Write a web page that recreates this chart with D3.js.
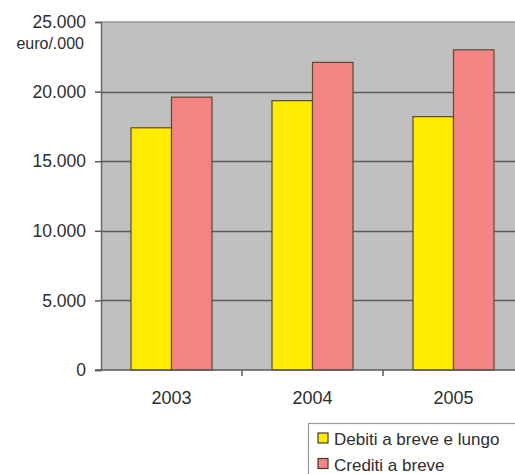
<!DOCTYPE html>
<html>
<head>
<meta charset="utf-8">
<script src="https://cdn.jsdelivr.net/npm/d3@7"></script>
<style>
  html, body { margin: 0; padding: 0; background: #fff; }
  svg { display: block; }
  text { font-family: "Liberation Sans", Arial, sans-serif; fill: #2e2e2e; }
</style>
</head>
<body>
<svg id="chart" width="515" height="474"></svg>
<script>
// Anni e serie (migliaia di euro)
const years = ["2003", "2004", "2005"];
const debiti = [17400, 19350, 18200];
const crediti = [19600, 22100, 23000];
const seriesNames = ["Debiti a breve e lungo", "Crediti a breve"];
const seriesColors = ["#ffec00", "#f38585"];
const yTicks = [0, 5000, 10000, 15000, 20000, 25000];
const yTickLabels = ["0", "5.000", "10.000", "15.000", "20.000", "25.000"];
const unitLabel = "euro/.000";

const svg = d3.select("#chart");

const plot = { left: 101, right: 524, top: 22, bottom: 370 };

const x = d3.scaleBand()
  .domain(years)
  .range([plot.left, plot.right])
  .paddingInner(60 / 141)
  .paddingOuter(30 / 141);

const xs = d3.scaleBand()
  .domain(seriesNames)
  .range([0, x.bandwidth()]);

const y = d3.scaleLinear()
  .domain([0, 25000])
  .range([plot.bottom, plot.top]);

// plot background
svg.append("rect")
  .attr("x", plot.left).attr("y", plot.top)
  .attr("width", plot.right - plot.left).attr("height", plot.bottom - plot.top)
  .attr("fill", "#c0c0c0");

// horizontal gridlines
svg.append("g")
  .selectAll("line")
  .data(yTicks.filter(t => t > 0 && t < 25000))
  .join("line")
  .attr("x1", plot.left).attr("x2", plot.right)
  .attr("y1", d => Math.round(y(d)) + 0.5).attr("y2", d => Math.round(y(d)) + 0.5)
  .attr("stroke", "#5a5a5a").attr("stroke-width", 1.5);

// top border
svg.append("line")
  .attr("x1", plot.left).attr("x2", plot.right)
  .attr("y1", y(25000)).attr("y2", y(25000))
  .attr("stroke", "#9a9a9a").attr("stroke-width", 1.5);

// bars
const rows = years.map((yr, i) => ({ year: yr, values: [debiti[i], crediti[i]] }));
svg.append("g")
  .selectAll("g")
  .data(rows)
  .join("g")
  .attr("transform", d => `translate(${x(d.year)},0)`)
  .selectAll("rect")
  .data(d => d.values.map((v, j) => ({ v, j })))
  .join("rect")
  .attr("x", d => xs(seriesNames[d.j]))
  .attr("width", xs.bandwidth())
  .attr("y", d => y(d.v))
  .attr("height", d => y(0) - y(d.v))
  .attr("fill", d => seriesColors[d.j])
  .attr("stroke", "#5b4a2e")
  .attr("stroke-width", 1.2);

// y axis
const yAxis = d3.axisLeft(y)
  .tickValues(yTicks)
  .tickFormat((d, i) => yTickLabels[i])
  .tickSize(6)
  .tickPadding(9);
const gy = svg.append("g")
  .attr("transform", `translate(${plot.left},0)`)
  .call(yAxis);
gy.select(".domain").attr("stroke", "#6a6a6a").attr("stroke-width", 1.5);
gy.selectAll(".tick line").attr("stroke", "#5a5a5a").attr("stroke-width", 1.5);
gy.selectAll(".tick text")
  .attr("font-size", 17.5)
  .attr("fill", "#3a3a3a")
  .style("font-family", "'Liberation Sans', Arial, sans-serif");

// x axis baseline with ticks on category boundaries
svg.append("line")
  .attr("x1", plot.left - 6).attr("x2", plot.right)
  .attr("y1", y(0)).attr("y2", y(0))
  .attr("stroke", "#5a5a5a").attr("stroke-width", 1.5);
svg.append("g")
  .selectAll("line")
  .data(years.slice(1))
  .join("line")
  .attr("x1", d => x(d) - x.step() * x.paddingInner() / 2)
  .attr("x2", d => x(d) - x.step() * x.paddingInner() / 2)
  .attr("y1", y(0)).attr("y2", y(0) + 6)
  .attr("stroke", "#5a5a5a").attr("stroke-width", 1.5);

svg.append("g")
  .selectAll("text")
  .data(years)
  .join("text")
  .attr("x", d => x(d) + x.bandwidth() / 2)
  .attr("y", 404)
  .attr("text-anchor", "middle")
  .attr("font-size", 18)
  .attr("fill", "#3a3a3a")
  .text(d => d);

// unit label
svg.append("text")
  .attr("x", 84).attr("y", 49)
  .attr("text-anchor", "end")
  .attr("font-size", 16)
  .attr("fill", "#222")
  .text(unitLabel);

// legend
const legend = svg.append("g");
legend.append("rect")
  .attr("x", 308.5).attr("y", 423.5)
  .attr("width", 230).attr("height", 80)
  .attr("fill", "#fff")
  .attr("stroke", "#9a9a9a").attr("stroke-width", 1.2);
const items = legend.selectAll("g")
  .data(seriesNames)
  .join("g")
  .attr("transform", (d, i) => `translate(0,${i * 25.5})`);
items.append("rect")
  .attr("x", 318).attr("y", 433)
  .attr("width", 10).attr("height", 10)
  .attr("fill", (d, i) => seriesColors[i])
  .attr("stroke", "#4a3a2a").attr("stroke-width", 1.2);
items.append("text")
  .attr("x", 334).attr("y", 445)
  .attr("font-size", 17)
  .attr("fill", "#2e2e2e")
  .text(d => d);
</script>
</body>
</html>
